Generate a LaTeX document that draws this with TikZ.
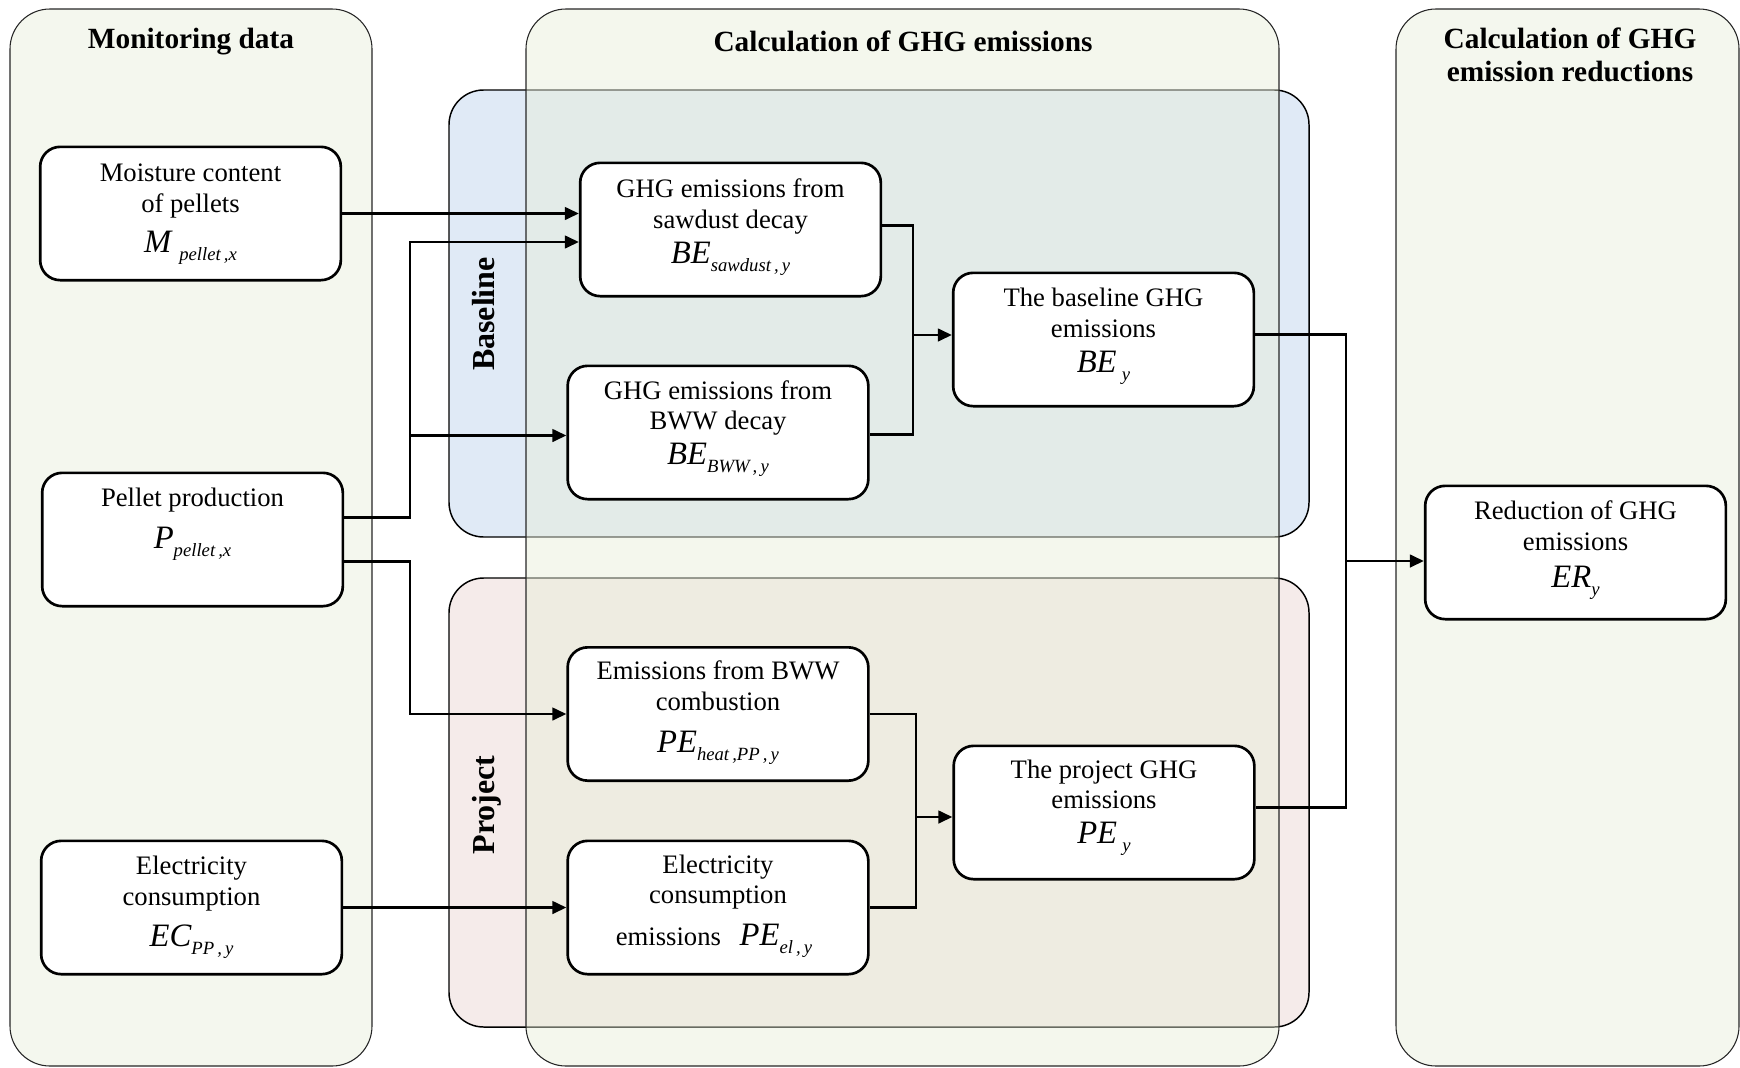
\documentclass[tikz,border=0pt]{standalone}
\usepackage{fontspec}
\setmainfont{Liberation Serif}
\usetikzlibrary{arrows.meta,calc}
\definecolor{panelg}{RGB}{244,247,238}
\definecolor{overg}{RGB}{231,238,216}
\definecolor{baseb}{RGB}{224,234,246}
\definecolor{projp}{RGB}{245,235,234}
\newcommand{\bodyf}{\fontsize{20}{24}\selectfont}
\newcommand{\varf}{\fontsize{24.5}{27}\selectfont}
\newcommand{\subf}{\fontsize{14}{16}\selectfont}
\newcommand{\vs}[3][0pt]{{\varf\itshape #2}\hspace{#1}\raisebox{-6.5pt}{\subf\itshape #3}}
\tikzset{
  panel/.style={draw=black!85, line width=0.8pt, rounded corners=30pt},
  subpanel/.style={draw=black, line width=1.1pt, rounded corners=26pt},
  box/.style={draw=black, fill=white, line width=2pt, rounded corners=15pt,
    minimum width=225.5pt, minimum height=100pt, inner sep=0pt},
  txt/.style={anchor=base, inner sep=0pt, font=\bodyf},
  ttl/.style={anchor=base, inner sep=0pt, font=\fontsize{22}{25}\selectfont\bfseries},
  side/.style={anchor=base, inner sep=0pt, font=\fontsize{24}{28}\selectfont\bfseries, rotate=90},
  line/.style={draw=black, line width=1.8pt},
  arr/.style={line, -{Triangle[length=10.5pt,width=9.5pt]}},
}
\begin{document}
\begin{tikzpicture}[x=0.75pt,y=-0.75pt]
\useasboundingbox (0,0) rectangle (1740,1067);
% panels
\draw[panel, fill=panelg] (10,9) rectangle (372,1066);
\draw[panel, fill=panelg] (1396,9) rectangle (1739,1066);
\draw[subpanel, fill=baseb] (449,90) rectangle (1309,537);
\draw[subpanel, fill=projp] (449,578) rectangle (1309,1027);
\draw[panel, fill=overg, fill opacity=0.45] (526,9) rectangle (1279,1066);
% titles
\node[ttl] (tmon) at (191,48) {Monitoring data};
\node[ttl] (tcal) at (903,51) {Calculation of GHG emissions};
\node[ttl] (tred1) at (1570,48) {Calculation of GHG};
\node[ttl] (tred2) at (1570,81) {emission reductions};
\node[side] (lbase) at (494,314) {Baseline};
\node[side] (lproj) at (494,805) {Project};
% boxes
\node[box] (m) at (190.5,213.5) {};
\node[box] (p) at (192.5,539.5) {};
\node[box] (ec) at (191.5,907.5) {};
\node[box] (bsaw) at (730.5,229.5) {};
\node[box] (bbww) at (718,432.5) {};
\node[box] (bey) at (1103.5,339.5) {};
\node[box] (pheat) at (718,714) {};
\node[box] (pel) at (718,907.5) {};
\node[box] (pey) at (1104,812.5) {};
\node[box] (er) at (1575.5,552.5) {};
% box texts
\node[txt] (m1) at (190.5,181) {Moisture content};
\node[txt] (m2) at (190.5,212) {of pellets};
\node[txt] (m3) at (190.5,252) {\vs[6pt]{M}{pellet\,,x}};
\node[txt] (p1t) at (192.5,506) {Pellet production};
\node[txt] (p2t) at (192.5,548) {\vs{P}{pellet\,,x}};
\node[txt] (ec1) at (191.5,874) {Electricity};
\node[txt] (ec2) at (191.5,905) {consumption};
\node[txt] (ec3) at (191.5,946) {\vs{EC}{PP\,,\,y}};
\node[txt] (bs1t) at (730.5,197) {GHG emissions from};
\node[txt] (bs2t) at (730.5,228) {sawdust decay};
\node[txt] (bs3t) at (730.5,263) {\vs{BE}{sawdust\,,\,y}};
\node[txt] (bb1t) at (718,399) {GHG emissions from};
\node[txt] (bb2t) at (718,429) {BWW decay};
\node[txt] (bb3t) at (718,464) {\vs{BE}{BWW\,,\,y}};
\node[txt] (be1t) at (1103.5,306) {The baseline GHG};
\node[txt] (be2t) at (1103.5,337) {emissions};
\node[txt] (be3t) at (1103.5,372) {\vs[4pt]{BE}{y}};
\node[txt] (ph1t) at (718,679) {Emissions from BWW};
\node[txt] (ph2t) at (718,710) {combustion};
\node[txt] (ph3t) at (718,752) {\vs{PE}{heat\,,PP\,,\,y}};
\node[txt] (pl1t) at (718,873) {Electricity};
\node[txt] (pl2t) at (718,903) {consumption};
\node[txt] (pl3t) at (714,945) {emissions\hspace{14pt}\vs{PE}{el\,,\,y}};
\node[txt] (py1t) at (1104,778) {The project GHG};
\node[txt] (py2t) at (1104,808) {emissions};
\node[txt] (py3t) at (1104,843) {\vs[4pt]{PE}{y}};
\node[txt] (er1t) at (1575.5,519) {Reduction of GHG};
\node[txt] (er2t) at (1575.5,550) {emissions};
\node[txt] (er3t) at (1575.5,587) {\vs{ER}{y}};
% junction coordinates
\coordinate (jx1) at (410,242);
\coordinate (jb) at (913,335);
\coordinate (jp) at (916,817);
\coordinate (jr) at (1346,561);
\coordinate (pa) at ($(p.east)+(0,-22)$);
\coordinate (pb) at ($(p.east)+(0,22)$);
\coordinate (bsout) at ($(bsaw.east)+(0,-4)$);
\coordinate (bbout) at ($(bbww.east)+(0,2)$);
\coordinate (bbin) at ($(bbww.west)+(0,3)$);
\coordinate (beout) at ($(bey.east)+(0,-5)$);
\coordinate (peout) at ($(pey.east)+(0,-5)$);
% connectors
\draw[arr] (m.east) -- (m.east -| bsaw.west);
\draw[arr] (pa) -| (jx1) -- (jx1 -| bsaw.west);
\draw[arr] (bbin -| jx1) -- (bbin);
\draw[arr] (pb) -- (pb -| jx1) |- (pheat.west);
\draw[arr] (ec) -- (pel);
\draw[line] (bsout) -| (jb) |- (bbout);
\draw[arr] (jb) -- (jb -| bey.west);
\draw[line] (pheat.east) -| (jp) |- (pel.east);
\draw[arr] (jp) -- (jp -| pey.west);
\draw[line] (beout) -| (jr) |- (peout);
\draw[arr] (jr) -- (jr -| er.west);
\end{tikzpicture}
\end{document}
